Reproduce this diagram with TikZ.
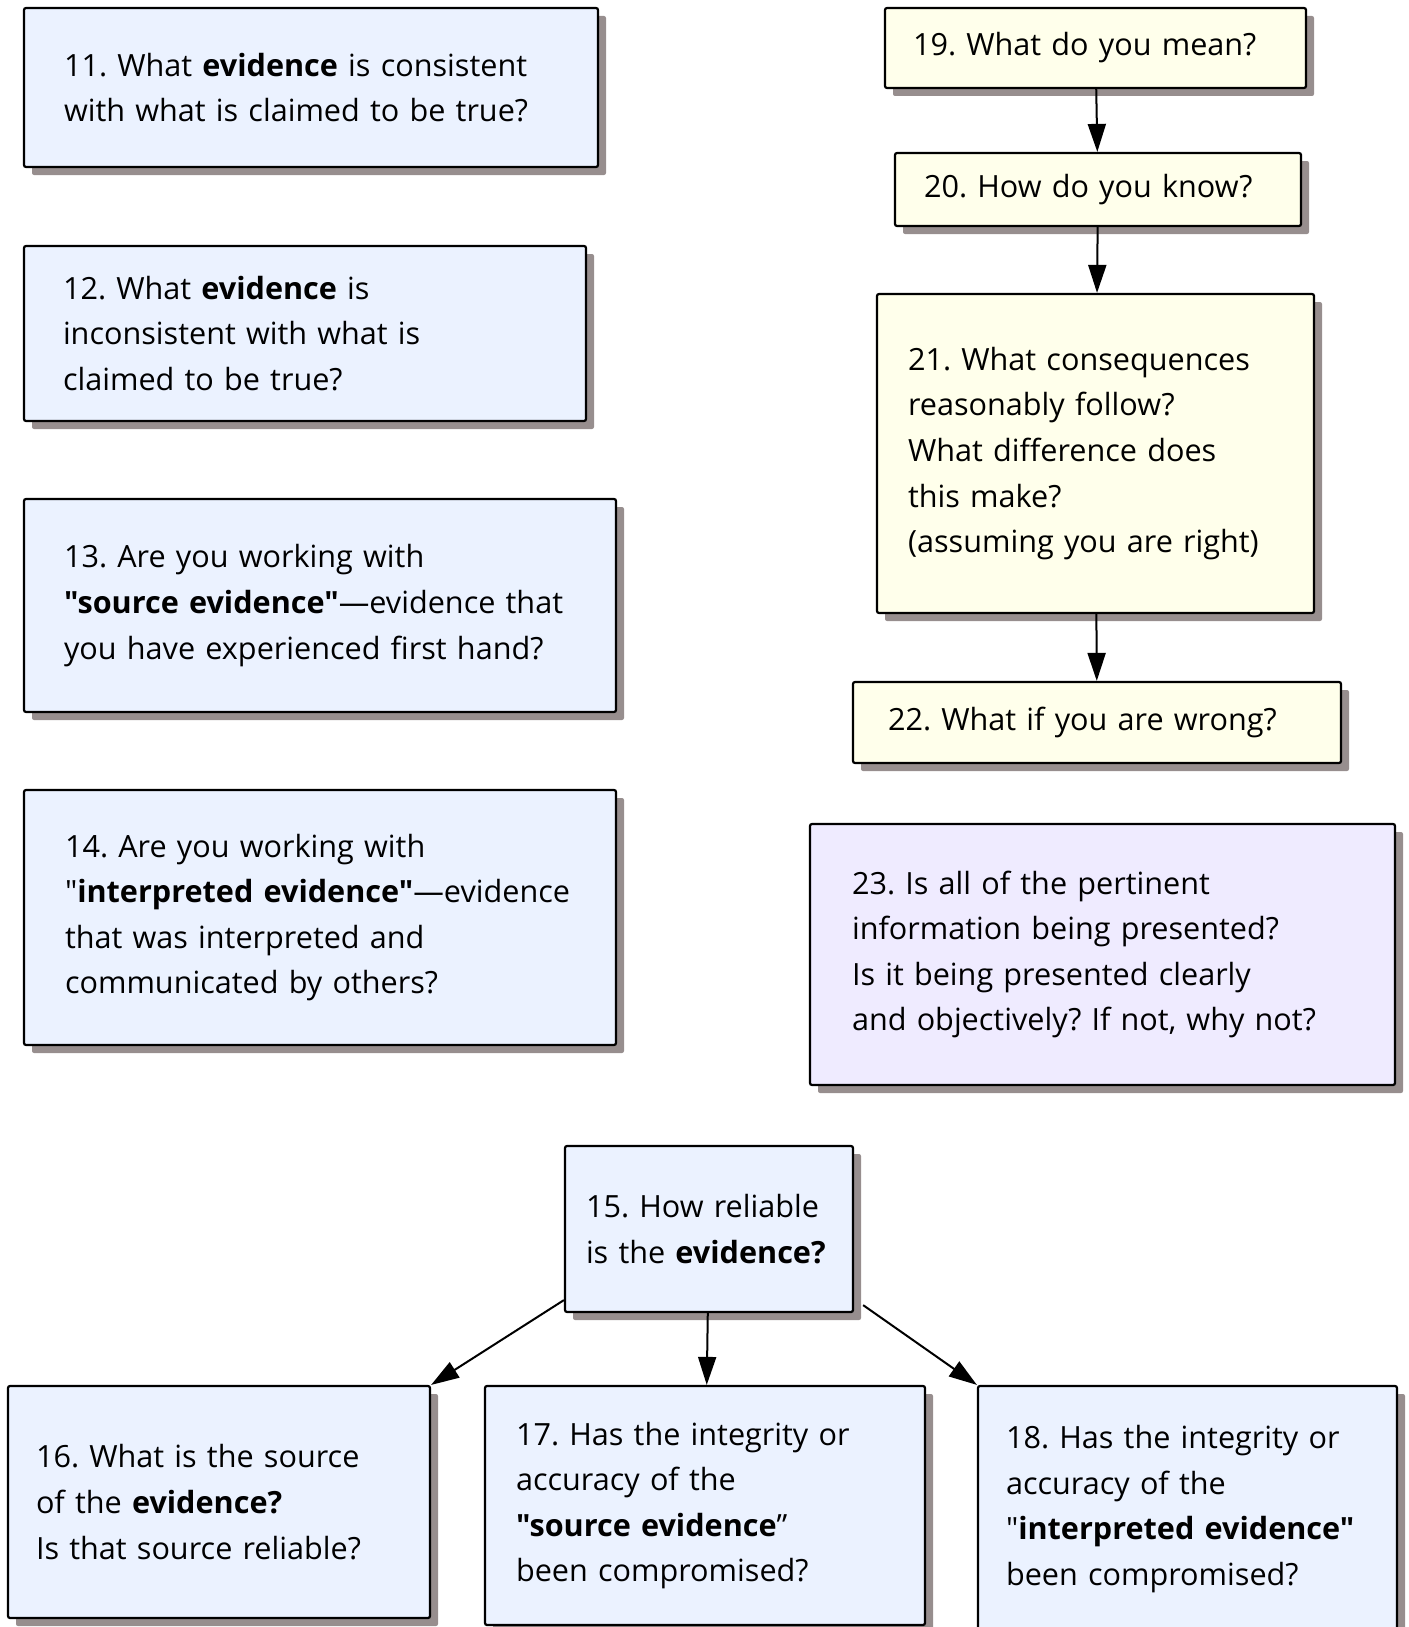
\documentclass[tikz,border=0pt]{standalone}
\usepackage{fontspec}
\setmainfont{Open Sans}[Ligatures=TeXOff]
\usetikzlibrary{shadows,arrows.meta,calc}
\definecolor{bluefill}{HTML}{EBF2FF}
\definecolor{yelfill}{HTML}{FFFFEB}
\definecolor{purpfill}{HTML}{EFEBFF}
\definecolor{shadowc}{HTML}{978E8E}
\tikzset{
  qbox/.style={draw=black, line width=1.1pt, rounded corners=1pt, align=left,
    inner ysep=0pt, font=\fontsize{15.3}{22.8}\selectfont\frenchspacing,
    drop shadow={shadow xshift=4pt, shadow yshift=-4pt, fill=shadowc, opacity=1}},
  bluebox/.style={qbox, fill=bluefill},
  yelbox/.style={qbox, fill=yelfill},
  purpbox/.style={qbox, fill=purpfill},
  arr/.style={-{Triangle[length=14pt,width=9pt]}, line width=1pt}
}
\begin{document}
\begin{tikzpicture}[x=0.5pt,y=-0.5pt]
\useasboundingbox (0,0) rectangle (1408,1627);
\node[bluebox, minimum height=79.5pt, text width=247pt, inner xsep=20pt] (b11) at (311,87.5)
  {11. What \textbf{evidence} is consistent\\with what is claimed to be true?};
\node[bluebox, minimum height=87.5pt, text width=242pt, inner xsep=19.5pt] (b12) at (305,333.5)
  {12. What \textbf{evidence} is\\inconsistent with what is\\claimed to be true?};
\node[bluebox, minimum height=106.5pt, text width=256pt, inner xsep=20pt] (b13) at (320,605.5)
  {13. Are you working with\\\textbf{"source evidence"}—evidence that\\you have experienced first hand?};
\node[bluebox, minimum height=127.5pt, text width=255pt, inner xsep=20.5pt] (b14) at (320,917.5)
  {14. Are you working with\\"\textbf{interpreted evidence"}—evidence\\that was interpreted and\\communicated by others?};
\node[yelbox, minimum height=40pt, text width=182.5pt, inner xsep=14pt] (b19) at (1095.5,48)
  {19. What do you mean?};
\node[yelbox, minimum height=36.5pt, text width=174pt, inner xsep=14.5pt] (b20) at (1098,189.5)
  {20. How do you know?};
\node[yelbox, minimum height=159.5pt, text width=187.5pt, inner xsep=15.5pt] (b21) at (1095.5,453.5)
  {21. What consequences\\reasonably follow?\\What difference does\\this make?\\(assuming you are right)};
\node[yelbox, minimum height=40.5pt, text width=209pt, inner xsep=17.5pt] (b22) at (1097,722.5)
  {22. What if you are wrong?};
\node[purpbox, minimum height=130.5pt, text width=250.5pt, inner xsep=21pt] (b23) at (1102.5,954.5)
  {23. Is all of the pertinent\\information being presented?\\Is it being presented clearly\\and objectively? If not, why not?};
\node[bluebox, minimum height=83pt, text width=123pt, inner xsep=10.5pt] (b15) at (709,1229)
  {15. How reliable\\is the \textbf{evidence?}};
\node[bluebox, minimum height=116pt, text width=183pt, inner xsep=14pt] (b16) at (219,1502)
  {16. What is the source\\of the \textbf{evidence?}\\Is that source reliable?};
\node[bluebox, minimum height=119.5pt, text width=189pt, inner xsep=15.5pt] (b17) at (705,1505.5)
  {17. Has the integrity or\\accuracy of the\\\textbf{"source evidence}”\\been compromised?};
\node[bluebox, minimum height=123pt, text width=181.5pt, inner xsep=14pt] (b18) at (1187.5,1509)
  {18. Has the integrity or\\accuracy of the\\"\textbf{interpreted evidence"}\\been compromised?};
\draw[arr] (b19) -- (b20);
\draw[arr] (b20) -- (b21);
\draw[arr] (b21) -- (b22);
\draw[arr] (b15) -- (b17);
\draw[arr] ($(b15.south west)+(0,-13)$) -- (b16.north east);
\draw[arr] ($(b15.south east)+(9,-8)$) -- (b18.north west);
\end{tikzpicture}
\end{document}
